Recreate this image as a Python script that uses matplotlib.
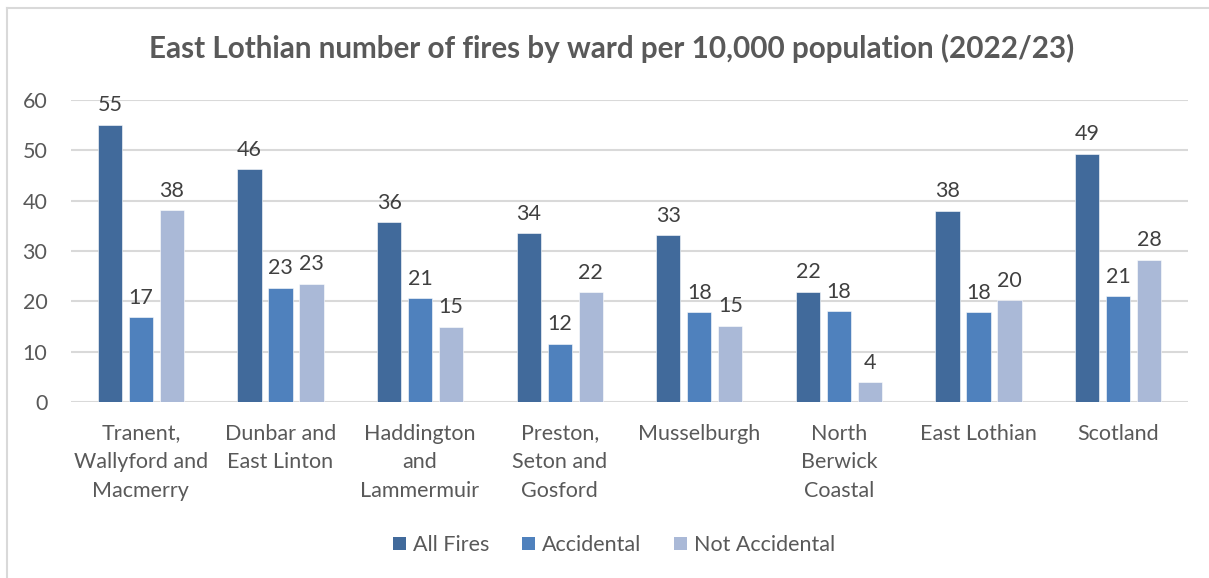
import matplotlib
matplotlib.use("Agg")
import matplotlib.pyplot as plt
from matplotlib.lines import Line2D
from matplotlib.patches import Patch
import numpy as np

plt.rcParams['font.family'] = ['Lato', 'DejaVu Sans']

categories = ["Tranent,\nWallyford and\nMacmerry", "Dunbar and\nEast Linton",
              "Haddington\nand\nLammermuir", "Preston,\nSeton and\nGosford",
              "Musselburgh", "North\nBerwick\nCoastal", "East Lothian", "Scotland"]
all_fires = [55.0, 46.2, 35.7, 33.5, 33.1, 21.9, 38.0, 49.3]
accidental = [16.8, 22.7, 20.6, 11.6, 17.8, 18.0, 17.8, 21.0]
not_accidental = [38.1, 23.4, 15.0, 21.8, 15.1, 3.9, 20.2, 28.2]

series_names = ["All Fires", "Accidental", "Not Accidental"]
series_values = [all_fires, accidental, not_accidental]
colors = ["#416A9B", "#4F81BD", "#AAB9D7"]
yticks = [0, 10, 20, 30, 40, 50, 60]

W, H = 1209, 578
fig = plt.figure(figsize=(W / 100, H / 100), dpi=100)
fig.patch.set_facecolor("white")

# plot area in pixel units
left, right, top, bottom = 71, 1188, 100, 402
ax = fig.add_axes([left / W, 1 - bottom / H, (right - left) / W, (bottom - top) / H])

text_color = "#595959"
label_color = "#404040"
fs = 15.5
x = np.arange(len(categories))
bar_w = 0.174
pitch = 0.222

for i, (name, vals, col) in enumerate(zip(series_names, series_values, colors)):
    pos = x + (i - 1) * pitch
    ax.bar(pos, vals, width=bar_w, color=col, edgecolor="white", linewidth=0.4,
           label=name, zorder=3)
    for px, v in zip(pos, vals):
        ax.annotate(f"{v:.0f}", (px, v), xytext=(0, 7), textcoords="offset points",
                    ha="center", va="bottom", fontsize=fs, color=label_color)

ax.set_xlim(-0.5, len(categories) - 0.5)
ax.set_ylim(0, 60)
ax.set_yticks(yticks)
ax.set_yticklabels([str(t) for t in yticks], fontsize=fs, color=text_color)
ax.tick_params(axis="y", length=0, pad=17)
ax.set_xticks(x)
ax.set_xticklabels(categories, fontsize=fs, color=text_color, linespacing=1.55,
                   va="top")
ax.tick_params(axis="x", length=0, pad=15.5)
ax.grid(axis="y", color="#D9D9D9", linewidth=1.5, zorder=0)
ax.set_axisbelow(True)
for s in ax.spines.values():
    s.set_visible(False)

fig.text(612 / W, 1 - 48 / H, "East Lothian number of fires by ward per 10,000 population (2022/23)",
         ha="center", va="center", fontsize=21.3, fontweight="bold", color=text_color)

handles = [Patch(facecolor=c, edgecolor="none") for c in colors]
fig.legend(handles, series_names, loc="center", bbox_to_anchor=(614 / W, 1 - 545 / H),
           ncol=3, frameon=False, fontsize=fs, labelcolor=text_color,
           handlelength=0.6, handleheight=0.6, handletextpad=0.35, columnspacing=1.5)

# chart frame
fig.add_artist(Line2D([7 / W, 1], [1 - 8 / H, 1 - 8 / H], color="#D9D9D9", linewidth=1.5))
fig.add_artist(Line2D([7 / W, 7 / W], [0, 1 - 8 / H], color="#D9D9D9", linewidth=1.5))

fig.savefig("out.png", dpi=100, facecolor="white")
